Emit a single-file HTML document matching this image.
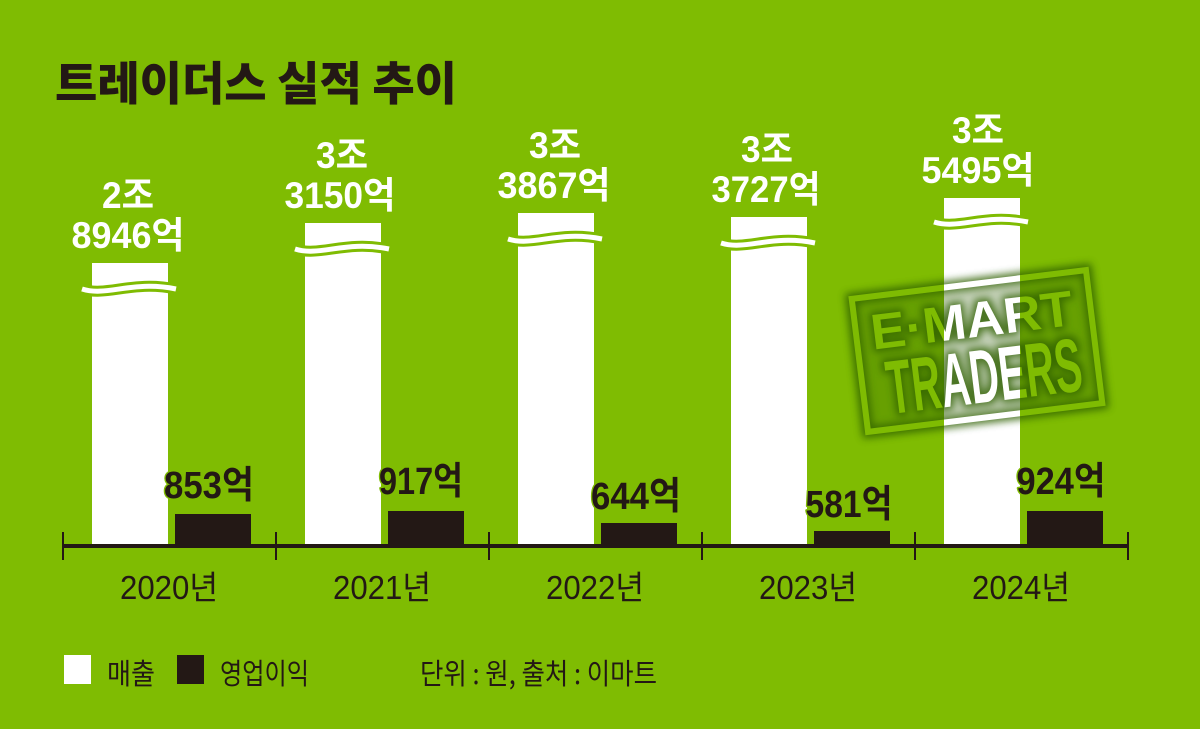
<!DOCTYPE html>
<html>
<head>
<meta charset="utf-8">
<style>
  html,body{margin:0;padding:0;background:#7fbc02;}
  svg{display:block;}
  .t{font-family:"Noto Sans CJK KR","Liberation Sans",sans-serif;}
  .n{font-family:"Liberation Sans","Noto Sans CJK KR",sans-serif;}
</style>
</head>
<body>
<svg width="1200" height="729" viewBox="0 0 1200 729" xmlns="http://www.w3.org/2000/svg">
  <defs>
    <filter id="glow" x="-30%" y="-30%" width="160%" height="160%">
      <feMorphology in="SourceAlpha" operator="dilate" radius="3" result="d"/>
      <feGaussianBlur in="d" stdDeviation="4" result="b"/>
      <feFlood flood-color="#2f6000" flood-opacity="1"/>
      <feComposite in2="b" operator="in"/>
    </filter>
    <filter id="soft" x="-20%" y="-20%" width="140%" height="140%">
      <feGaussianBlur stdDeviation="6"/>
    </filter>
    <mask id="knock" maskUnits="userSpaceOnUse" x="0" y="0" width="1200" height="729">
      <rect x="0" y="0" width="1200" height="729" fill="#fff"/>
      <g transform="translate(977,351) rotate(-7)">
        <rect x="-118" y="-67" width="236" height="134" fill="none" stroke="#000" stroke-width="6"/>
        <text class="n" x="-103" y="-14" font-size="50" font-weight="700" textLength="203" lengthAdjust="spacingAndGlyphs" fill="#000">E·MART</text>
        <text class="n" x="-94" y="52" font-size="76" font-weight="700" textLength="196" lengthAdjust="spacingAndGlyphs" fill="#000">TRADERS</text>
      </g>
    </mask>
  </defs>

  <rect x="0" y="0" width="1200" height="729" fill="#7fbc02"/>

  <!-- Title -->
  <text class="t" x="55" y="100" font-size="46" font-weight="900" fill="#231815" textLength="402" lengthAdjust="spacingAndGlyphs">트레이더스 실적 추이</text>

  <!-- White bars (매출) -->
  <rect x="92" y="263" width="76" height="283" fill="#fff"/>
  <rect x="305" y="223" width="76" height="323" fill="#fff"/>
  <rect x="518" y="213" width="76" height="333" fill="#fff"/>
  <rect x="731" y="217" width="76" height="329" fill="#fff"/>
  <rect x="944" y="198" width="76" height="348" fill="#fff"/>

  <!-- Wave breaks -->
  <g fill="none">
    <g stroke="#7fbc02" stroke-width="11">
      <path d="M82,289 C107,297 132,280 176,289"/>
      <path d="M295,249 C320,257 345,240 389,249"/>
      <path d="M508,239 C533,247 558,230 602,239"/>
      <path d="M721,243 C746,251 771,234 815,243"/>
      <path d="M934,222 C959,230 984,213 1028,222"/>
    </g>
    <g stroke="#fff" stroke-width="5">
      <path d="M82,289 C107,297 132,280 176,289"/>
      <path d="M295,249 C320,257 345,240 389,249"/>
      <path d="M508,239 C533,247 558,230 602,239"/>
      <path d="M721,243 C746,251 771,234 815,243"/>
      <path d="M934,222 C959,230 984,213 1028,222"/>
    </g>
  </g>

  <!-- Dark bars (영업이익) -->
  <rect x="175" y="514" width="76" height="32" fill="#231815"/>
  <rect x="388" y="511" width="76" height="35" fill="#231815"/>
  <rect x="601" y="523" width="76" height="23" fill="#231815"/>
  <rect x="814" y="531" width="76" height="15" fill="#231815"/>
  <rect x="1027" y="511" width="76" height="35" fill="#231815"/>

  <!-- Stamp overlay -->
  <g mask="url(#knock)">
    <g transform="translate(977,351) rotate(-7)">
      <rect x="-118" y="-67" width="236" height="134" fill="#2d5a00" opacity="0.28" filter="url(#soft)"/>
      <g filter="url(#glow)" opacity="0.8">
        <rect x="-118" y="-67" width="236" height="134" fill="none" stroke="#000" stroke-width="6"/>
        <text class="n" x="-103" y="-14" font-size="50" font-weight="700" textLength="203" lengthAdjust="spacingAndGlyphs">E·MART</text>
        <text class="n" x="-94" y="52" font-size="76" font-weight="700" textLength="196" lengthAdjust="spacingAndGlyphs">TRADERS</text>
      </g>
    </g>
  </g>

  <!-- Axis -->
  <rect x="63" y="544" width="1066" height="4" fill="#231815"/>
  <g stroke="#231815" stroke-width="2">
    <line x1="63" y1="532" x2="63" y2="560"/>
    <line x1="276" y1="532" x2="276" y2="560"/>
    <line x1="489" y1="532" x2="489" y2="560"/>
    <line x1="702" y1="532" x2="702" y2="560"/>
    <line x1="915" y1="532" x2="915" y2="560"/>
    <line x1="1128" y1="532" x2="1128" y2="560"/>
  </g>

  <!-- White value labels -->
  <g class="n" fill="#fff" font-size="37" font-weight="700" text-anchor="middle">
    <text x="128" y="208" textLength="52" lengthAdjust="spacingAndGlyphs">2조</text>
    <text x="128" y="248" textLength="113" lengthAdjust="spacingAndGlyphs">8946억</text>
    <text x="342" y="168" textLength="52" lengthAdjust="spacingAndGlyphs">3조</text>
    <text x="340" y="208" textLength="111" lengthAdjust="spacingAndGlyphs">3150억</text>
    <text x="555" y="158" textLength="52" lengthAdjust="spacingAndGlyphs">3조</text>
    <text x="554" y="198" textLength="113" lengthAdjust="spacingAndGlyphs">3867억</text>
    <text x="767" y="162" textLength="52" lengthAdjust="spacingAndGlyphs">3조</text>
    <text x="766" y="202" textLength="109" lengthAdjust="spacingAndGlyphs">3727억</text>
    <text x="978" y="143" textLength="52" lengthAdjust="spacingAndGlyphs">3조</text>
    <text x="978" y="183" textLength="113" lengthAdjust="spacingAndGlyphs">5495억</text>
  </g>

  <!-- Dark value labels -->
  <g class="n" fill="#231815" font-size="38" font-weight="700" text-anchor="middle" stroke="#7fbc02" stroke-width="3" paint-order="stroke" stroke-linejoin="round">
    <text x="209" y="498" textLength="90" lengthAdjust="spacingAndGlyphs">853억</text>
    <text x="421" y="494" textLength="84" lengthAdjust="spacingAndGlyphs">917억</text>
    <text x="636" y="509" textLength="90" lengthAdjust="spacingAndGlyphs">644억</text>
    <text x="849" y="517" textLength="87" lengthAdjust="spacingAndGlyphs">581억</text>
    <text x="1061" y="494" textLength="89" lengthAdjust="spacingAndGlyphs">924억</text>
  </g>

  <!-- Year labels -->
  <g class="n" fill="#231815" font-size="33" text-anchor="middle">
    <text x="169" y="599" textLength="98" lengthAdjust="spacingAndGlyphs">2020년</text>
    <text x="382" y="599" textLength="98" lengthAdjust="spacingAndGlyphs">2021년</text>
    <text x="595" y="599" textLength="98" lengthAdjust="spacingAndGlyphs">2022년</text>
    <text x="808" y="599" textLength="98" lengthAdjust="spacingAndGlyphs">2023년</text>
    <text x="1021" y="599" textLength="98" lengthAdjust="spacingAndGlyphs">2024년</text>
  </g>

  <!-- Legend -->
  <rect x="64" y="655" width="27" height="29" fill="#fff"/>
  <rect x="177" y="655" width="27" height="29" fill="#231815"/>
  <g class="t" fill="#231815" font-size="29">
    <text x="107" y="684" textLength="48" lengthAdjust="spacingAndGlyphs">매출</text>
    <text x="220" y="684" textLength="89" lengthAdjust="spacingAndGlyphs">영업이익</text>
    <text x="420" y="684" textLength="237" lengthAdjust="spacingAndGlyphs">단위 : 원, 출처 : 이마트</text>
  </g>
</svg>
</body>
</html>
